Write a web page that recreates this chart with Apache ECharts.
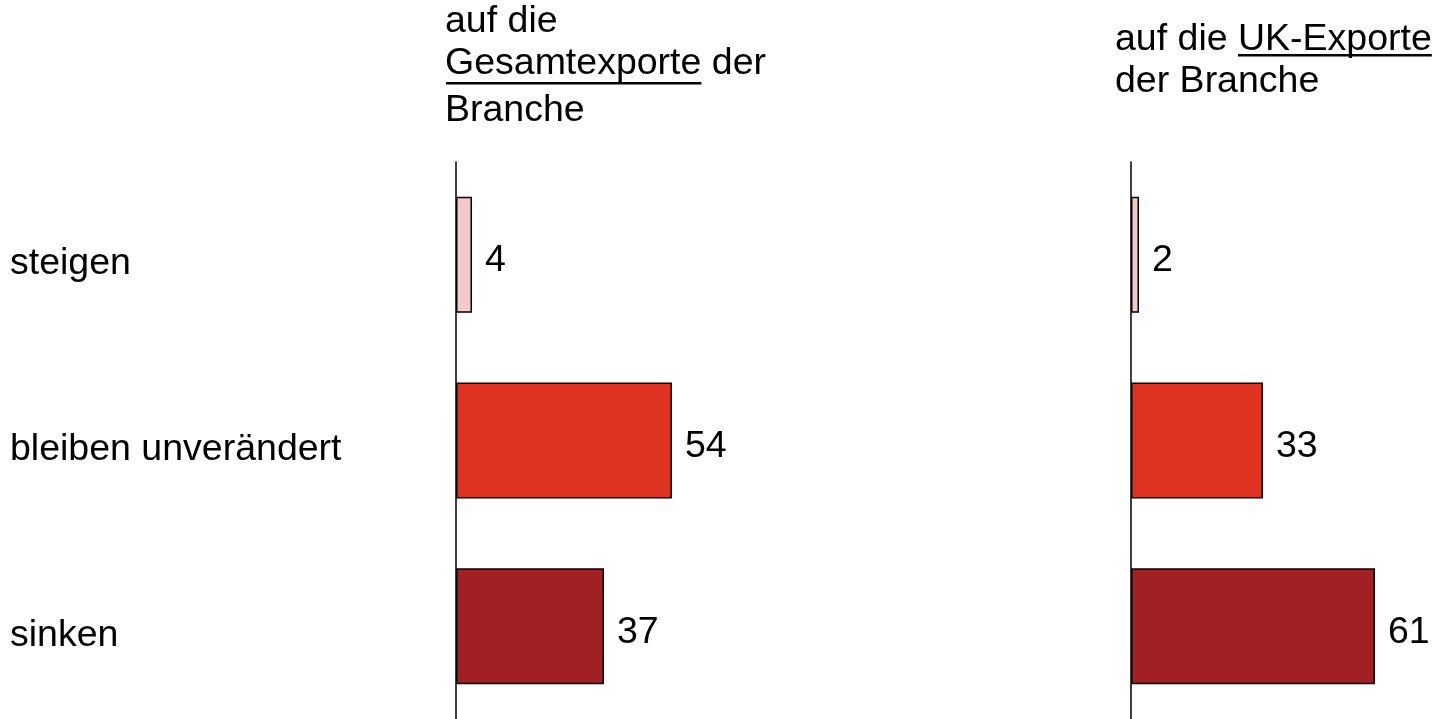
<!DOCTYPE html>
<html><head><meta charset="utf-8">
<script src="https://cdn.jsdelivr.net/npm/echarts@6/dist/echarts.min.js"></script>
<style>html,body{margin:0;padding:0;background:#fff}#c{width:1435px;height:719px}</style>
</head><body><div id="c"></div>
<script>
const categories = ['steigen', 'bleiben unverändert', 'sinken'];
const gesamtValues = [4, 54, 37];
const ukValues = [2, 33, 61];
const barColors = ['#f5c9c8', '#e03220', '#a12023'];
const leftTitleLines = ['auf die', 'Gesamtexporte der', 'Branche'];
const leftUnderlined = 'Gesamtexporte';
const rightTitleLines = ['auf die UK-Exporte', 'der Branche'];
const rightPrefix = 'auf die ';
const rightUnderlined = 'UK-Exporte';

const FS = 37.5;
const FAM = '"Liberation Sans", Arial, sans-serif';
const FONT = FS + 'px ' + FAM;
const mctx = document.createElement('canvas').getContext('2d');
mctx.font = FONT;
const wGes = mctx.measureText(leftUnderlined).width;
const wPre = mctx.measureText(rightPrefix).width;
const wUK = mctx.measureText(rightUnderlined).width;

const LX = 445, RX = 1115;
function txt(s, x, y) {
  return { type: 'text', style: { text: s, x: x, y: y, font: FONT, fill: '#000', textAlign: 'left', textVerticalAlign: 'middle', verticalAlign: 'middle' } };
}
const graphics = [
  txt(leftTitleLines[0], LX, 22),
  txt(leftTitleLines[1], LX, 64),
  txt(leftTitleLines[2], LX, 111),
  { type: 'rect', shape: { x: LX + 1, y: 82, width: wGes - 1, height: 2.5 }, style: { fill: '#000' } },
  txt(rightTitleLines[0], RX, 40),
  txt(rightTitleLines[1], RX, 82),
  { type: 'rect', shape: { x: RX + wPre, y: 54, width: wUK, height: 2.5 }, style: { fill: '#000' } }
];

function barSeries(values, idx) {
  return {
    type: 'bar', xAxisIndex: idx, yAxisIndex: idx,
    data: values.map((v, i) => ({ value: v, itemStyle: { color: barColors[i] } })),
    barWidth: 116,
    itemStyle: { borderColor: '#000', borderWidth: 1.5 },
    label: { show: true, position: 'right', distance: 13, offset: [0, 6], color: '#000', fontSize: FS, fontFamily: FAM },
    silent: true
  };
}
function yAx(idx, showLabels) {
  return {
    type: 'category', gridIndex: idx, data: categories, inverse: true,
    axisLine: { show: true, lineStyle: { color: '#000', width: 1.5 } },
    axisTick: { show: false },
    axisLabel: { show: showLabels, align: 'left', verticalAlign: 'top', lineHeight: 18, margin: 446, color: '#000', fontSize: FS, fontFamily: FAM }
  };
}
function xAx(idx, max) {
  return { type: 'value', gridIndex: idx, min: 0, max: max, show: false, splitLine: { show: false } };
}
const chart = echarts.init(document.getElementById('c'), null, { renderer: 'canvas' });
chart.setOption({
  animation: false,
  backgroundColor: '#fff',
  grid: [
    { left: 456, top: 162, width: 400, height: 559, containLabel: false },
    { left: 1131, top: 162, width: 280, height: 559, containLabel: false }
  ],
  xAxis: [xAx(0, 100), xAx(1, 70)],
  yAxis: [yAx(0, true), yAx(1, false)],
  series: [barSeries(gesamtValues, 0), barSeries(ukValues, 1)],
  graphic: graphics
});
</script></body></html>
